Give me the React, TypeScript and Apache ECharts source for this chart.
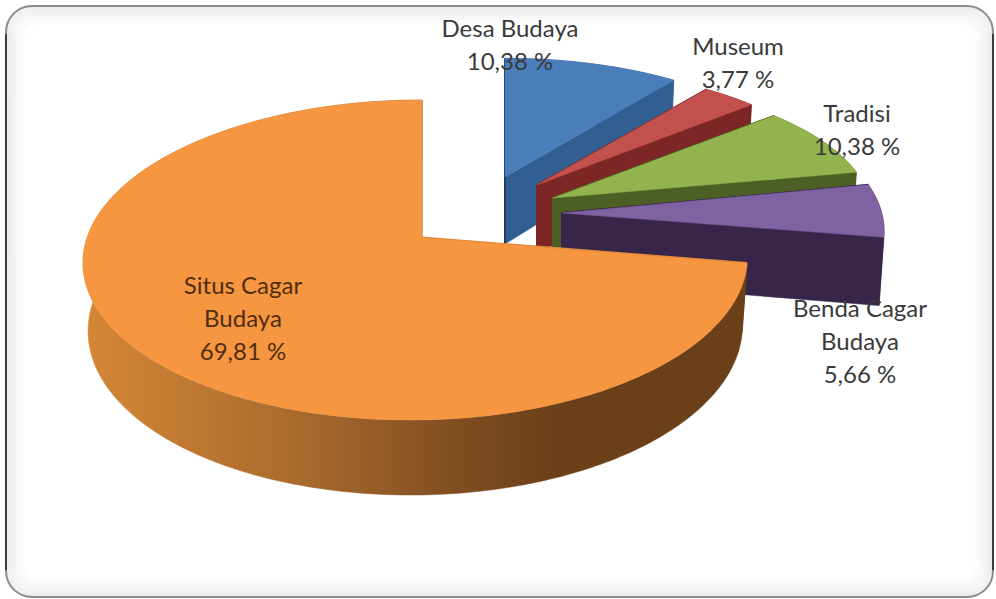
import React, { useEffect, useRef } from "react";
import * as echarts from "echarts";

// Share of each kind of heritage, in percent, clockwise from twelve o'clock.
const categories = ["Desa Budaya", "Museum", "Tradisi", "Benda Cagar Budaya", "Situs Cagar Budaya"];
const shares = [10.38, 3.77, 10.38, 5.66, 69.81];

// Label wrapping and placement.
const labelLines = [["Desa Budaya"], ["Museum"], ["Tradisi"], ["Benda Cagar", "Budaya"], ["Situs Cagar", "Budaya"]];
const labelAnchors = [[510, 27], [738, 45], [857, 112], [860, 307], [243, 284]];
const LABEL_STEP = 33;

// How far each wedge is pulled out of the pie, and how much further back it sits.
const wedgeApex = [[505, 177], [537, 185], [553, 198], [562, 213], [422, 238]];
const wedgeScale = [[0.945, 0.86], [0.95, 0.85], [0.98, 0.87], [0.99, 0.95], [1, 1]];

const topColors = ["#4a7ebb", "#c2504d", "#93b34f", "#7f62a1", "#f79640"];
const sideColors = ["#315f92", "#7c2726", "#4c5f24", "#38264a", "#6b3f18"];
const edgeColors = ["#1f3a5c", "#7c2726", "#4c5f24", "#38264a", "#dd8a3c"];

// Perspective of the pie's disc.
const RADIUS_X = 329;
const RADIUS_Y = 157;
const NEAR_GAIN = 0.1375;
const LEAN = -6;
const TWIST = 9.5;
const DEPTH = 67;
const DEPTH_NEAR = 8;
const BASE_SHRINK = 0.985;

const rad = (deg: number) => (deg * Math.PI) / 180;
const smooth = (t: number) => {
  const c = Math.min(1, Math.max(0, t));
  return c * c * (3 - 2 * c);
};

// The viewing angle turns the right-hand part of the rim slightly towards the back.
const seenAngle = (deg: number) =>
  deg - TWIST * smooth((deg - 35) / 55) * (1 - smooth((deg - 270) / 90));

// Projects a point of the disc's rim, given by its clockwise angle, relative to the apex.
function rimPoint(deg: number, fx: number, fy: number) {
  const seen = seenAngle(deg);
  const u = Math.sin(rad(seen));
  const v = -Math.cos(rad(seen));
  const d = 1 - NEAR_GAIN * v;
  return {
    x: fx * ((RADIUS_X * u) / d + LEAN * (v + 1)),
    y: (fy * RADIUS_Y * v) / d,
    v,
  };
}

function renderWedge(params: any, api: any) {
  const i = params.dataIndex;
  const total = shares.reduce((a, b) => a + b, 0);
  const before = shares.slice(0, i).reduce((a, b) => a + b, 0);
  const from = (before / total) * 360;
  const to = ((before + api.value(0)) / total) * 360;
  const [ax, ay] = wedgeApex[i];
  const [fx, fy] = wedgeScale[i];

  const top: number[][] = [];
  const bottom: number[][] = [];
  const n = Math.max(2, Math.ceil(to - from));
  for (let k = 0; k <= n; k++) {
    const p = rimPoint(from + ((to - from) * k) / n, fx, fy);
    top.push([ax + p.x, ay + p.y]);
    bottom.push([ax + p.x * BASE_SHRINK, ay + p.y + DEPTH + DEPTH_NEAR * p.v]);
  }
  const apexTop = [ax, ay];
  const apexBottom = [ax, ay + DEPTH];

  const sideFill =
    i === 4
      ? new echarts.graphic.LinearGradient(
          90, 0, 560, 0,
          [
            { offset: 0, color: "#d48636" },
            { offset: 0.45, color: "#a86a2c" },
            { offset: 0.75, color: "#835023" },
            { offset: 1, color: sideColors[4] },
          ],
          true,
        )
      : sideColors[i];

  const poly = (points: number[][], fill: any) => ({
    type: "polygon",
    shape: { points },
    style: { fill, stroke: fill, lineWidth: 0.5 },
  });

  return {
    type: "group",
    children: [
      poly([...top, ...bottom.slice().reverse()], sideFill),
      poly([apexTop, top[n], bottom[n], apexBottom], sideColors[i]),
      poly([apexTop, top[0], bottom[0], apexBottom], sideColors[i]),
      {
        type: "polyline",
        shape: { points: i === 4 ? [top[0], apexTop] : [top[0], apexTop, apexBottom] },
        style: { fill: "none", stroke: edgeColors[i], lineWidth: i === 4 ? 3 : 2 },
      },
      poly([apexTop, ...top], topColors[i]),
    ],
  };
}

// Soft inner shadow and the rounded frame round the plot.
function frameElements() {
  const elements: any[] = [];
  for (let s = 0; s < 9; s++) {
    elements.push({
      type: "rect",
      silent: true,
      z: -2,
      shape: { x: 7 + s * 2, y: 7 + s * 2, width: 985 - s * 4, height: 589 - s * 4, r: 24 - s },
      style: { fill: "none", stroke: `rgba(0,0,0,${0.075 - s * 0.008})`, lineWidth: 2 },
    });
  }
  elements.push({
    type: "rect",
    silent: true,
    z: -1,
    shape: { x: 6, y: 6, width: 987, height: 591, r: 26 },
    style: { fill: "none", stroke: "#8c8c8c", lineWidth: 2 },
  });
  const edge = (x: number, y1: number, y2: number) => ({
    type: "line",
    silent: true,
    z: -1,
    shape: { x1: x, y1, x2: x, y2 },
    style: { stroke: "#3c3c3c", lineWidth: 2 },
  });
  elements.push(edge(6, 34, 570), edge(993, 34, 570));
  return elements;
}

function labelElements() {
  const elements: any[] = [];
  categories.forEach((_, i) => {
    const lines = [...labelLines[i], `${shares[i].toFixed(2).replace(".", ",")} %`];
    lines.forEach((text, j) => {
      elements.push({
        type: "text",
        silent: true,
        z: 20,
        x: labelAnchors[i][0],
        y: labelAnchors[i][1] + j * LABEL_STEP,
        style: {
          text,
          fill: i === 4 ? "#4f2e10" : "#3a3a3a",
          font: '24px Lato, "Open Sans", sans-serif',
          align: "center",
          verticalAlign: "middle",
        },
      });
    });
  });
  return elements;
}

export default function App() {
  const ref = useRef<HTMLDivElement>(null);

  useEffect(() => {
    if (!ref.current) return;
    const chart = echarts.init(ref.current, undefined, { renderer: "svg" });
    chart.setOption({
      animation: false,
      backgroundColor: "#ffffff",
      graphic: { elements: [...frameElements(), ...labelElements()] },
      series: [
        {
          type: "custom",
          coordinateSystem: "none",
          silent: true,
          z: 5,
          renderItem: renderWedge,
          data: shares.map((v) => [v]),
        },
      ],
    });
    return () => chart.dispose();
  }, []);

  return <div ref={ref} style={{ position: "fixed", left: 0, top: 0, width: 996, height: 599 }} />;
}
